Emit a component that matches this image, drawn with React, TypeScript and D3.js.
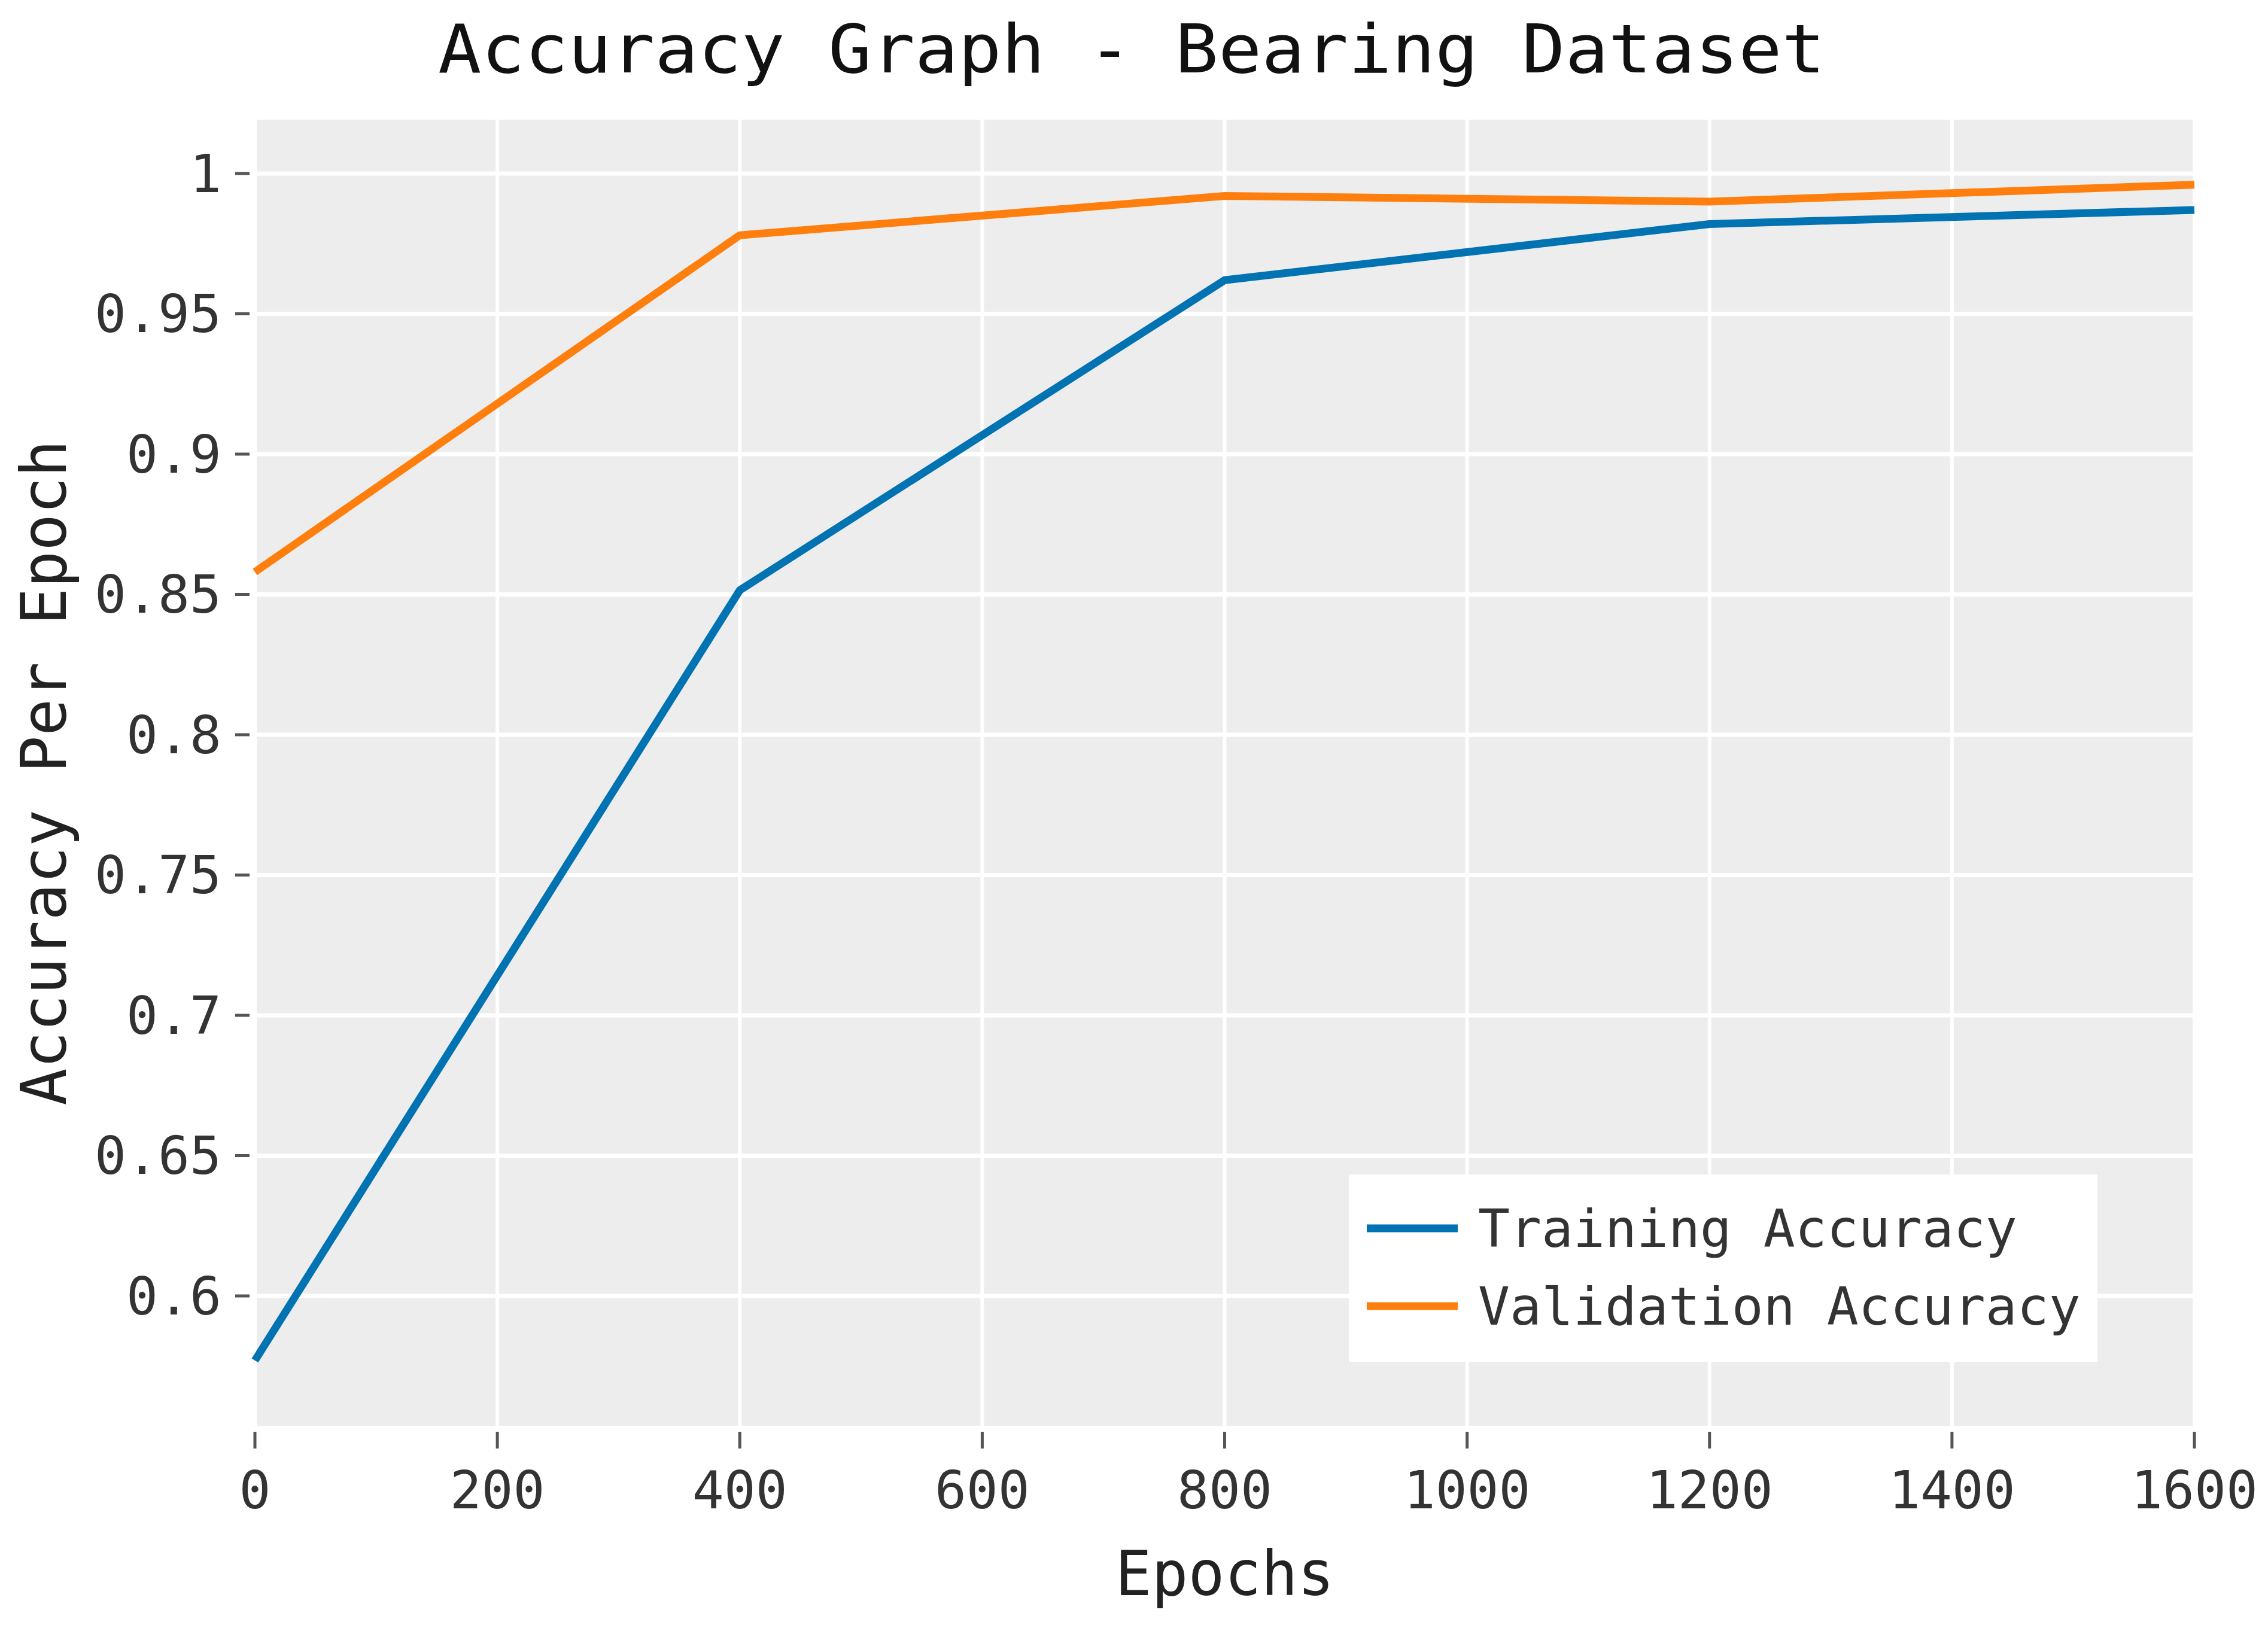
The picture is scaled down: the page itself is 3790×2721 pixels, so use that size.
import React, { useRef, useEffect } from "react";
import * as d3 from "d3";

// chart values
const epochs = [0, 400, 800, 1200, 1600];
const trainingAcc = [0.577, 0.8515, 0.962, 0.982, 0.987];
const validationAcc = [0.858, 0.978, 0.992, 0.990, 0.996];
const seriesNames = ["Training Accuracy", "Validation Accuracy"];
const seriesColors = ["#0173B2", "#FF7F0E"];
const yTickValues = [0.6, 0.65, 0.7, 0.75, 0.8, 0.85, 0.9, 0.95, 1];
const xTickValues = [0, 200, 400, 600, 800, 1000, 1200, 1400, 1600];

const W = 3790;
const H = 2721;
const FONT = "'DejaVu Sans Mono', monospace";

function App() {
  const svgRef = useRef<SVGSVGElement>(null);

  useEffect(() => {
    const svg = d3.select(svgRef.current);
    svg.selectAll("*").remove();

    const left = 426;
    const right = 3667;
    const top = 200;
    const bottom = 2383;

    const x = d3.scaleLinear().domain([0, 1600]).range([left, right]);
    const y = d3.scaleLinear().domain([0.6, 1]).range([2166, 290]);

    // panel background
    svg
      .append("rect")
      .attr("x", left)
      .attr("y", top)
      .attr("width", right - left)
      .attr("height", bottom - top)
      .attr("fill", "#EDEDED");

    // grid
    svg
      .append("g")
      .selectAll("line")
      .data(xTickValues)
      .join("line")
      .attr("x1", (d) => x(d))
      .attr("x2", (d) => x(d))
      .attr("y1", top)
      .attr("y2", bottom)
      .attr("stroke", "#fff")
      .attr("stroke-width", 6);
    svg
      .append("g")
      .selectAll("line")
      .data(yTickValues)
      .join("line")
      .attr("x1", left)
      .attr("x2", right)
      .attr("y1", (d) => y(d))
      .attr("y2", (d) => y(d))
      .attr("stroke", "#fff")
      .attr("stroke-width", 7);

    // y ticks (outside, with a small gap from the panel)
    const yAxis = svg.append("g");
    yAxis
      .selectAll("line")
      .data(yTickValues)
      .join("line")
      .attr("x1", left - 33)
      .attr("x2", left - 9)
      .attr("y1", (d) => y(d))
      .attr("y2", (d) => y(d))
      .attr("stroke", "#555")
      .attr("stroke-width", 5);
    yAxis
      .selectAll("text")
      .data(yTickValues)
      .join("text")
      .attr("x", 370)
      .attr("y", (d) => y(d))
      .attr("text-anchor", "end")
      .attr("dominant-baseline", "central")
      .attr("font-family", FONT)
      .attr("font-size", 88)
      .attr("fill", "#333")
      .text((d) => String(d));

    // x ticks
    const xAxis = svg.append("g");
    xAxis
      .selectAll("line")
      .data(xTickValues)
      .join("line")
      .attr("x1", (d) => x(d))
      .attr("x2", (d) => x(d))
      .attr("y1", bottom + 10)
      .attr("y2", bottom + 38)
      .attr("stroke", "#555")
      .attr("stroke-width", 5);
    xAxis
      .selectAll("text")
      .data(xTickValues)
      .join("text")
      .attr("x", (d) => x(d))
      .attr("y", 2490)
      .attr("text-anchor", "middle")
      .attr("dominant-baseline", "central")
      .attr("font-family", FONT)
      .attr("font-size", 88)
      .attr("fill", "#333")
      .text((d) => String(d));

    // lines
    const line = d3
      .line<number>()
      .x((_, i) => x(epochs[i]))
      .y((d) => y(d));

    [trainingAcc, validationAcc].forEach((vals, i) => {
      svg
        .append("path")
        .datum(vals)
        .attr("fill", "none")
        .attr("stroke", seriesColors[i])
        .attr("stroke-width", 13)
        .attr("stroke-linejoin", "round")
        .attr("d", line);
    });

    // legend
    const lg = svg.append("g");
    lg.append("rect")
      .attr("x", 2254)
      .attr("y", 1963)
      .attr("width", 1251)
      .attr("height", 313)
      .attr("fill", "#fff");
    seriesNames.forEach((name, i) => {
      const cy = 2053 + i * 130;
      lg.append("line")
        .attr("x1", 2284)
        .attr("x2", 2436)
        .attr("y1", cy)
        .attr("y2", cy)
        .attr("stroke", seriesColors[i])
        .attr("stroke-width", 13);
      lg.append("text")
        .attr("x", 2470)
        .attr("y", cy)
        .attr("dominant-baseline", "central")
        .attr("font-family", FONT)
        .attr("font-size", 88)
        .attr("fill", "#333")
        .text(name);
    });

    // title and axis labels
    svg
      .append("text")
      .attr("x", 1891)
      .attr("y", 121)
      .attr("text-anchor", "middle")
      .attr("font-family", FONT)
      .attr("font-size", 112)
      .attr("textLength", 2318)
      .attr("lengthAdjust", "spacingAndGlyphs")
      .attr("fill", "#111")
      .text("Accuracy Graph - Bearing Dataset");

    svg
      .append("text")
      .attr("x", (left + right) / 2)
      .attr("y", 2666)
      .attr("text-anchor", "middle")
      .attr("font-family", FONT)
      .attr("font-size", 104)
      .attr("textLength", 366)
      .attr("lengthAdjust", "spacingAndGlyphs")
      .attr("fill", "#222")
      .text("Epochs");

    svg
      .append("text")
      .attr("transform", `translate(110,${(top + bottom) / 2}) rotate(-90)`)
      .attr("text-anchor", "middle")
      .attr("font-family", FONT)
      .attr("font-size", 106)
      .attr("textLength", 1112)
      .attr("lengthAdjust", "spacingAndGlyphs")
      .attr("fill", "#222")
      .text("Accuracy Per Epoch");
  }, []);

  return (
    <svg
      ref={svgRef}
      width={W}
      height={H}
      style={{ position: "absolute", left: 0, top: 0, background: "#fff" }}
    />
  );
}

export default App;
